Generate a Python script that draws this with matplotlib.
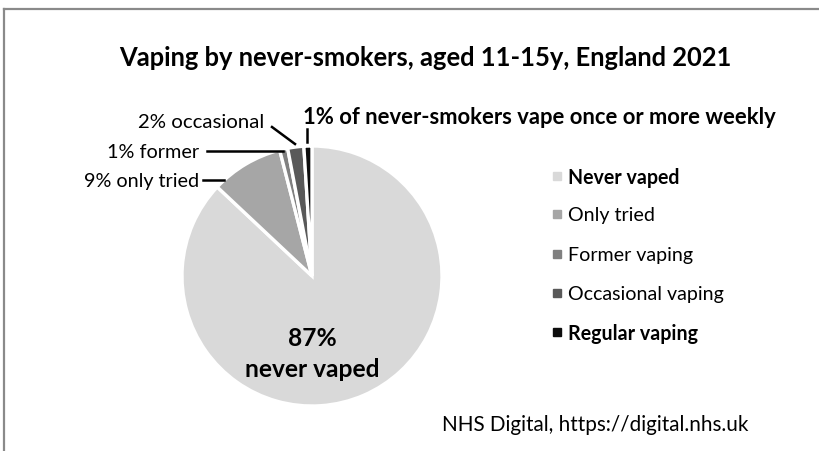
import matplotlib
matplotlib.use("Agg")
import matplotlib.pyplot as plt
from matplotlib.lines import Line2D
from matplotlib.patches import Rectangle

plt.rcParams['font.family'] = ['Lato', 'DejaVu Sans']

categories = ["Never vaped", "Only tried", "Former vaping", "Occasional vaping", "Regular vaping"]
values = [87, 9, 1, 2, 1]
colors = ["#d9d9d9", "#a6a6a6", "#808080", "#595959", "#0d0d0d"]
bold_legend = [True, False, False, False, True]
title = "Vaping by never-smokers, aged 11-15y, England 2021"
callout = "1% of never-smokers vape once or more weekly"
slice_labels = ["87%\nnever vaped", "9% only tried", "1% former", "2% occasional"]
source = "NHS Digital, https://digital.nhs.uk"

W, H = 819, 452
fig = plt.figure(figsize=(W / 100, H / 100), dpi=100)

# frame (top + left border like the cropped source)
fig.add_artist(Line2D([4 / W, 4 / W], [0, 1 - 10 / H], color="#8a8a8a", lw=1.6))
fig.add_artist(Line2D([4 / W, 1], [1 - 10 / H, 1 - 10 / H], color="#8a8a8a", lw=1.6))

cx, cy, R = 312, 277, 130
ax = fig.add_axes([(cx - R) / W, (H - cy - R) / H, 2 * R / W, 2 * R / H])
wedges, _ = ax.pie(values, colors=colors, startangle=90, counterclock=False,
                   radius=1, wedgeprops=dict(edgecolor="white", linewidth=2.4))
ax.set_xlim(-1, 1)
ax.set_ylim(-1, 1)
ax.set_aspect("equal")
ax.axis("off")


def px(x, y):
    return ((x - cx) / R, (cy - y) / R)


def ftext(x, y, s, size, ha="left", va="center", weight="normal", target=None, **kw):
    t = fig.text(x / W, 1 - y / H, s, fontsize=size, ha=ha, va=va, weight=weight, **kw)
    if target:
        fig.canvas.draw()
        w = t.get_window_extent().width
        t.set_fontsize(size * target / w)
    return t


ftext(425, 58, title, 17, ha="center", weight="bold", target=615)
ftext(303, 118, callout, 14, weight="bold", target=473)
ftext(312, 354, slice_labels[0], 17, ha="center", weight="bold", target=135,
      linespacing=1.45)
ftext(199, 182, slice_labels[1], 13, ha="right", target=115)
ftext(199, 152, slice_labels[2], 13, ha="right", target=92)
ftext(264, 122, slice_labels[3], 13, ha="right", target=126)
ftext(595, 425, source, 13, ha="center", target=306)

# leader lines
def seg(p1, p2):
    a, b = px(*p1), px(*p2)
    ax.add_line(Line2D([a[0], b[0]], [a[1], b[1]], color="black", lw=1.8, clip_on=False))

seg((203, 181), (224, 181))
seg((207, 152), (283, 152))
seg((272, 128), (295, 145))
seg((307, 130), (307, 143))

# legend
rows = [177, 215, 255, 294, 333]
probe = ftext(568, -100, categories[3], 13.5, target=156)
leg_size = probe.get_fontsize()
probe.remove()
for c, lab, b, y in zip(colors, categories, bold_legend, rows):
    fig.add_artist(Rectangle(((553) / W, 1 - (y + 4) / H), 8 / W, 8 / H, color=c))
    ftext(568, y + 1, lab, leg_size, weight="bold" if b else "normal")

fig.savefig("out.png", dpi=100, facecolor="white")
